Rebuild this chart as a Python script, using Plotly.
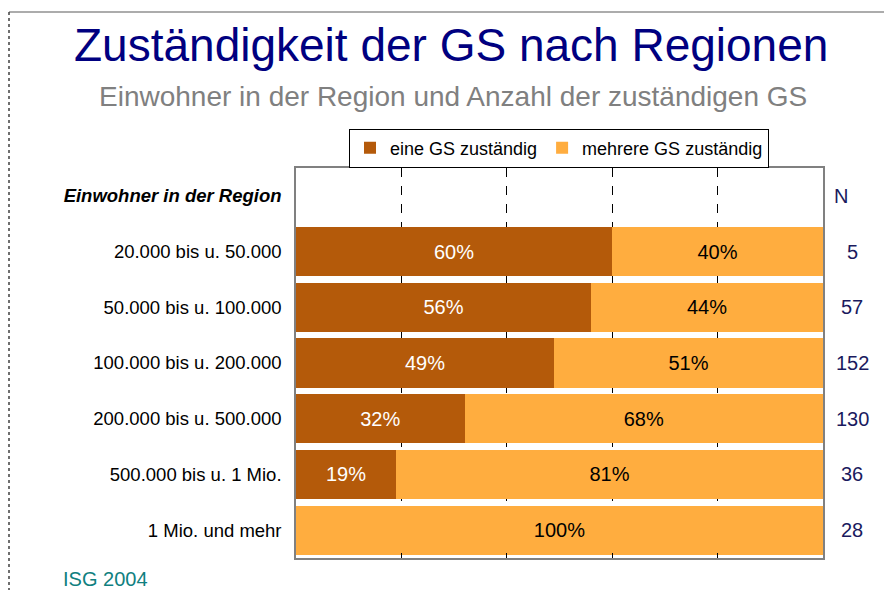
import plotly.graph_objects as go

categories = ["Einwohner in der Region", "20.000 bis u. 50.000", "50.000 bis u. 100.000",
              "100.000 bis u. 200.000", "200.000 bis u. 500.000",
              "500.000 bis u. 1 Mio.", "1 Mio. und mehr"]
bar_categories = categories[1:]
eine_gs = [60, 56, 49, 32, 19, 0]
mehrere_gs = [40, 44, 51, 68, 81, 100]
n_values = [5, 57, 152, 130, 36, 28]

BROWN = "#B45A0A"
ORANGE = "#FFAD3F"
NAVY = "#1A1A5E"
FONT = "Liberation Sans, Arial, sans-serif"

OFF = 8  # page offset of the figure (body margin)
FW, FH = 892, 590
# plot area in page pixels
L, R, T, B = 296 - OFF, 823 - OFF, 168 - OFF, 558 - OFF
W, H = R - L, B - T
def px(xp): return (xp - OFF - L) / W
def py(yp): return (B - (yp - OFF)) / H

fig = go.Figure()
fig.add_trace(go.Bar(
    y=bar_categories, x=eine_gs, orientation="h", name="eine GS zuständig",
    marker=dict(color=BROWN, line=dict(width=0)),
    text=[f"{v}%" if v > 0 else "" for v in eine_gs],
    textposition="inside", insidetextanchor="middle",
    textfont=dict(color="white", size=20, family=FONT),
))
fig.add_trace(go.Bar(
    y=bar_categories, x=mehrere_gs, orientation="h", name="mehrere GS zuständig",
    marker=dict(color=ORANGE, line=dict(width=0)),
    text=[f"{v}%" if v > 0 else "" for v in mehrere_gs],
    textposition="inside", insidetextanchor="middle",
    textfont=dict(color="black", size=20, family=FONT),
))

annotations = [dict(text="N", x=px(841), y=categories[0], xref="paper", yref="y",
                    showarrow=False, font=dict(size=20, color=NAVY, family=FONT), xanchor="center")]
for cat, n in zip(bar_categories, n_values):
    annotations.append(dict(text=str(n), x=px(852), y=cat, xref="paper", yref="y",
                            showarrow=False, font=dict(size=20, color=NAVY, family=FONT),
                            xanchor="center"))

annotations += [
    dict(text="Zuständigkeit der GS nach Regionen", x=px(451), y=py(45), xref="paper", yref="paper",
         showarrow=False, font=dict(size=46, color="#000080", family=FONT), xanchor="center", yanchor="middle"),
    dict(text="Einwohner in der Region und Anzahl der zuständigen GS", x=px(453), y=py(97),
         xref="paper", yref="paper", showarrow=False,
         font=dict(size=28, color="#808080", family=FONT), xanchor="center", yanchor="middle"),
    dict(text="ISG 2004", x=px(61), y=py(579), xref="paper", yref="paper", showarrow=False,
         font=dict(size=20, color="#108080", family=FONT), xanchor="left", yanchor="middle"),
]

shapes = [
    dict(type="line", xref="paper", yref="paper", x0=px(9), x1=px(900), y0=py(12), y1=py(12),
         line=dict(color="#909090", width=1.5)),
    dict(type="line", xref="paper", yref="paper", x0=px(9), x1=px(9), y0=py(12), y1=py(600),
         line=dict(color="#404040", width=1.5, dash="dot")),
]

fig.update_layout(
    barmode="stack", bargap=0.12,
    width=FW, height=FH,
    margin=dict(l=L, r=FW - R, t=T, b=FH - B, autoexpand=False),
    paper_bgcolor="white", plot_bgcolor="white",
    font=dict(family=FONT, size=18, color="black"),
    showlegend=True,
    legend=dict(orientation="h", x=px(559), y=py(148), xanchor="center", yanchor="middle",
                bordercolor="black", borderwidth=1, font=dict(size=18, color="black"),
                traceorder="normal", itemwidth=30, itemsizing="constant"),
    annotations=annotations, shapes=shapes,
    xaxis=dict(range=[0, 100], dtick=20, showgrid=True, gridcolor="black", griddash="dash",
               gridwidth=1, showticklabels=False, ticks="inside", ticklen=5, tickcolor="black",
               showline=True, linecolor="#808080", linewidth=1.5, mirror=True, zeroline=False,
               fixedrange=True),
    yaxis=dict(categoryorder="array", categoryarray=categories[::-1], type="category",
               range=[-0.5, 6.5], autorange=False,
               tickvals=categories, ticktext=["<b><i>Einwohner in der Region</i></b>"] + bar_categories,
               showline=True, linecolor="#808080", linewidth=1.5, mirror=True,
               ticks="", ticklabelstandoff=9, tickfont=dict(size=18.5), showgrid=False),
)

fig.write_html("out.html")
